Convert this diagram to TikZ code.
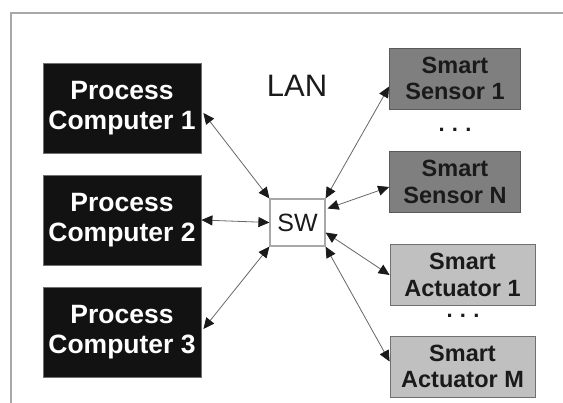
\documentclass[tikz,border=0pt]{standalone}
\usepackage{fontspec}
\setmainfont{Liberation Sans}
\usetikzlibrary{arrows.meta,calc}
\definecolor{framegray}{HTML}{A8A8A8}
\definecolor{pcfill}{HTML}{121212}
\definecolor{sensfill}{HTML}{7F7F7F}
\definecolor{actfill}{HTML}{C0C0C0}
\definecolor{boxedge}{HTML}{707070}
\definecolor{linkgray}{HTML}{666666}
\definecolor{inktext}{HTML}{1A1A1A}
\tikzset{
  pcbox/.style={draw=boxedge, line width=0.8pt, fill=pcfill, text=white, inner sep=0pt,
    minimum width=158pt, minimum height=90pt, align=center,
    font=\fontsize{26.5}{30.5}\selectfont\bfseries},
  sensbox/.style={draw=boxedge!80!black, line width=0.8pt, fill=sensfill, text=inktext, inner sep=0pt,
    minimum width=131pt, minimum height=61pt, align=center,
    font=\fontsize{23.5}{26.5}\selectfont\bfseries},
  actbox/.style={sensbox, fill=actfill, draw=boxedge, minimum width=145pt},
  swbox/.style={draw=framegray, line width=1.2pt, fill=white, inner sep=0pt,
    minimum width=55pt, minimum height=47pt, font=\fontsize{25}{30}\selectfont, text=inktext},
  link/.style={draw=linkgray, line width=0.8pt,
    {Triangle[length=11pt,width=10pt,fill=inktext,color=inktext]}-{Triangle[length=11pt,width=10pt,fill=inktext,color=inktext]}},
  dotsnode/.style={font=\fontsize{22}{26}\selectfont\bfseries, text=inktext, inner sep=0pt}
}
\begin{document}
\begin{tikzpicture}[x=1pt,y=-1pt]
\useasboundingbox (0,0) rectangle (563,403);
% frame
\draw[framegray, line width=2pt] (11,403) -- (11,12.6) -- (563,12.6);

\node[pcbox] (pc1) at (122,108) {Process\\Computer 1};
\node[pcbox] (pc2) at (122,220) {Process\\Computer 2};
\node[pcbox] (pc3) at (122,332) {Process\\Computer 3};

\node[swbox] (sw) at (297.5,222.5) {SW};

\node[font=\fontsize{31}{34}\selectfont, text=inktext] (lan) at (297,86) {LAN};

\node[sensbox] (s1) at (455,78.5) {Smart\\Sensor 1};
\node[sensbox] (sN) at (455,182) {Smart\\Sensor N};
\node[actbox] (a1) at (462.5,275) {Smart\\Actuator 1};
\node[actbox] (aM) at (462.5,366.5) {Smart\\Actuator M};

\node[dotsnode] (dots1) at (455,130) {.\,\,.\,\,.};
\node[dotsnode] (dots2) at (463,316) {.\,\,.\,\,.};

\draw[link] ($(pc1.east)+(2,5)$) -- (sw.north west);
\draw[link] (pc2.east) -- (sw.west);
\draw[link] ($(pc3.east)+(2,-3)$) -- (sw.south west);

\draw[link] (sw.north east) -- ($(s1.west)+(0,8)$);
\draw[link] ($(sw.east)+(2,-14)$) -- ($(sN.west)+(0,5)$);
\draw[link] ($(sw.east)+(0,10)$) -- (a1.west);
\draw[link] (sw.south east) -- ($(aM.west)+(0,-5)$);
\end{tikzpicture}
\end{document}
